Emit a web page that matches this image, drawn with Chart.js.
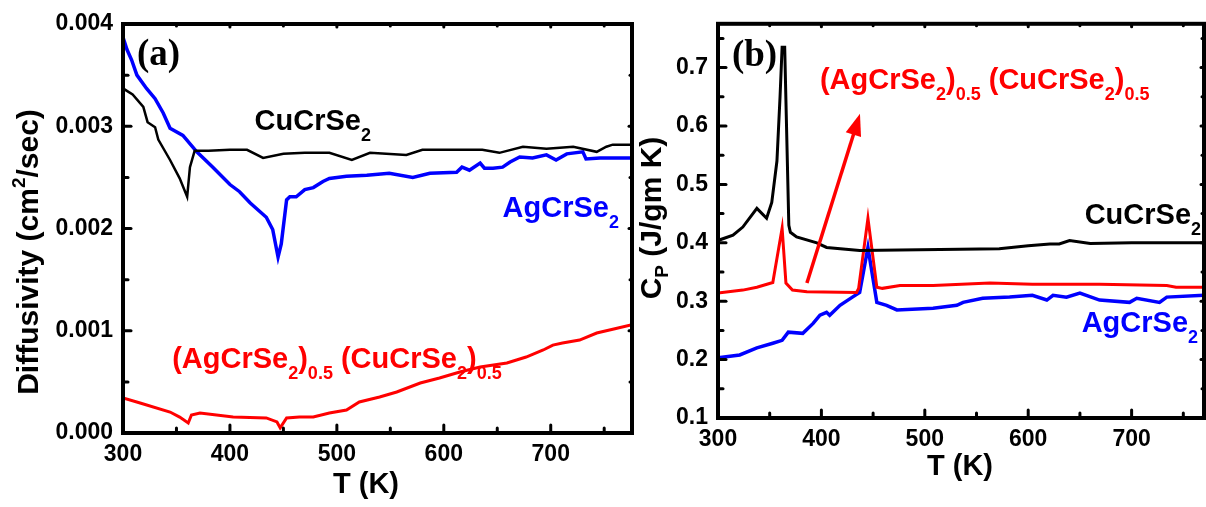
<!DOCTYPE html>
<html><head><meta charset="utf-8">
<script src="https://cdn.jsdelivr.net/npm/chart.js@4.4.0/dist/chart.umd.min.js"></script>
<style>
html,body{margin:0;padding:0;background:#fff;width:1206px;height:507px;overflow:hidden}
#wa{position:absolute;left:0;top:0;width:636px;height:507px}
#wb{position:absolute;left:636px;top:0;width:570px;height:507px}
</style></head><body>
<div id="wa"><canvas id="ca"></canvas></div>
<div id="wb"><canvas id="cb"></canvas></div>
<script>
// ---------- Panel (a): thermal diffusivity ----------
const aCuT = [300,309,319,323,330,333,344,353,360,362.6,367,380,400,416,431,450,470,493,514,531,565,580,610,636,652,674,696,721,743,752,758,776];
const aCuD = [3.37,3.31,3.19,3.04,2.99,2.87,2.67,2.49,2.31,2.60,2.76,2.76,2.77,2.77,2.69,2.73,2.74,2.74,2.67,2.74,2.72,2.77,2.77,2.77,2.74,2.80,2.78,2.80,2.75,2.80,2.82,2.82].map(v=>v/1000);
const aAgT = [300,303.7,308,313,322,330,337.6,344,356,369,384,400,409,419,434,440,445,448,453,456,462,470,478,487,493,509,528,549,571,587,612,617,624,634,638,646,655,662,671,683,696,705,715,730,733,746,776];
const aAgD = [3.87,3.75,3.65,3.50,3.37,3.27,3.13,2.98,2.91,2.75,2.60,2.43,2.36,2.25,2.11,1.99,1.72,1.85,2.28,2.31,2.31,2.38,2.40,2.46,2.49,2.51,2.52,2.54,2.50,2.54,2.55,2.60,2.57,2.64,2.59,2.59,2.60,2.65,2.70,2.69,2.72,2.67,2.73,2.75,2.68,2.69,2.69].map(v=>v/1000);
const aMixT = [300,316,344,353,361,364,372,403,434,444,447,453,465,478,493,509,521,540,556,578,596,615,634,659,677,693,702,711,727,743,760,776];
const aMixD = [0.342,0.293,0.205,0.156,0.098,0.176,0.196,0.156,0.147,0.108,0.05,0.147,0.156,0.156,0.196,0.225,0.303,0.352,0.401,0.489,0.538,0.596,0.645,0.685,0.743,0.812,0.860,0.880,0.909,0.978,1.02,1.06].map(v=>v/1000);

// ---------- Panel (b): specific heat ----------
const bCuT = [300,314.5,324,337.6,347,352,357,360,362,364.5,366,368.5,370,376,395.6,405,437,534,572,600,621,630,640,660,700,770];
const bCuC = [0.404,0.413,0.427,0.459,0.442,0.469,0.54,0.65,0.735,0.735,0.62,0.43,0.418,0.41,0.40,0.392,0.387,0.389,0.390,0.395,0.398,0.398,0.404,0.399,0.400,0.400];
const bAgT = [300,321,337.6,353,362,368,382,392,398.6,405,408,418,430,437,445,453.6,463,473,508,531,537,556,582,604,618,624,637,650,669,698,705,727,734,770];
const bAgC = [0.203,0.208,0.22,0.228,0.233,0.247,0.245,0.262,0.276,0.281,0.276,0.293,0.307,0.315,0.392,0.298,0.293,0.285,0.288,0.293,0.298,0.305,0.307,0.310,0.302,0.31,0.307,0.314,0.302,0.298,0.305,0.298,0.307,0.31];
const bMixT = [300,324,337.6,353,362,365.7,372,386,434,436,445,453.6,459,476,495,508,563,604,669,734,743,770];
const bMixC = [0.314,0.319,0.324,0.332,0.425,0.331,0.319,0.316,0.315,0.322,0.442,0.324,0.322,0.327,0.327,0.327,0.331,0.329,0.329,0.327,0.324,0.324];

// ---------- ticks ----------
const xTicks = [300,400,500,600,700];
const xMinor = [350,450,550,650,750];
const yTicksA = [0,0.001,0.002,0.003,0.004];
const yMinorA = [0.0005,0.0015,0.0025,0.0035];
const yTicksB = [0.1,0.2,0.3,0.4,0.5,0.6,0.7];
const yMinorB = [0.15,0.25,0.35,0.45,0.55,0.65,0.75];

const FONT = '"Liberation Sans", Arial, Helvetica, sans-serif';
const RED='#ff0000', BLUE='#0000ff', BLACK='#000000';
const pts = (xs,ys)=>xs.map((x,i)=>({x, y:ys[i]}));

function drawSegs(ctx, segs, x, y, color, size, subSize, subDy, supDy){
  let cx = x;
  for (const s of segs){
    const t = s[0], kind = s[1];
    if (kind==='sub'){ ctx.font = `bold ${subSize}px ${FONT}`; ctx.fillStyle=color; ctx.fillText(t, cx, y+subDy); }
    else if (kind==='sup'){ ctx.font = `bold ${subSize}px ${FONT}`; ctx.fillStyle=color; ctx.fillText(t, cx, y-supDy); }
    else { ctx.font = `bold ${size}px ${FONT}`; ctx.fillStyle=color; ctx.fillText(t, cx, y); }
    cx += ctx.measureText(t).width;
  }
  return cx - x;
}
function measureSegs(ctx, segs, size, subSize){
  let w=0;
  for (const s of segs){ ctx.font = `bold ${s[1]?subSize:size}px ${FONT}`; w += ctx.measureText(s[0]).width; }
  return w;
}

const deco = {
  id:'deco',
  afterDatasetsDraw(chart, args, o){
    const {ctx, chartArea:ca} = chart;
    const xs = chart.scales.x, ys = chart.scales.y;
    ctx.save();
    // arrow
    if (o.arrow){
      const a=o.arrow;
      const x1=xs.getPixelForValue(a.from[0]), y1=ys.getPixelForValue(a.from[1]);
      const x2=xs.getPixelForValue(a.to[0]), y2=ys.getPixelForValue(a.to[1]);
      const ang=Math.atan2(y2-y1,x2-x1), hl=22, hw=8;
      ctx.strokeStyle=a.color; ctx.fillStyle=a.color; ctx.lineWidth=3.5;
      ctx.beginPath(); ctx.moveTo(x1,y1); ctx.lineTo(x2-hl*0.8*Math.cos(ang), y2-hl*0.8*Math.sin(ang)); ctx.stroke();
      ctx.beginPath(); ctx.moveTo(x2,y2);
      ctx.lineTo(x2-hl*Math.cos(ang)+hw*Math.sin(ang), y2-hl*Math.sin(ang)-hw*Math.cos(ang));
      ctx.lineTo(x2-hl*Math.cos(ang)-hw*Math.sin(ang), y2-hl*Math.sin(ang)+hw*Math.cos(ang));
      ctx.closePath(); ctx.fill();
    }
    // frame
    ctx.strokeStyle='#000'; ctx.lineWidth=4;
    ctx.strokeRect(ca.left, ca.top, ca.right-ca.left, ca.bottom-ca.top);
    // ticks
    ctx.lineWidth=3; ctx.lineCap='round';
    const line=(x1,y1,x2,y2)=>{ctx.beginPath();ctx.moveTo(x1,y1);ctx.lineTo(x2,y2);ctx.stroke();};
    for (const v of o.xMajor){ const p=xs.getPixelForValue(v); if(p>ca.left+3&&p<ca.right-3){ line(p,ca.bottom,p,ca.bottom-8); line(p,ca.top,p,ca.top+3);} }
    for (const v of o.xMinor){ const p=xs.getPixelForValue(v); if(p>ca.left+3&&p<ca.right-3){ line(p,ca.bottom,p,ca.bottom-5); line(p,ca.top,p,ca.top+2);} }
    for (const v of o.yMajor){ const p=ys.getPixelForValue(v); if(p>ca.top+3&&p<ca.bottom-3){ line(ca.left,p,ca.left+8,p); line(ca.right,p,ca.right-3,p);} }
    for (const v of o.yMinor){ const p=ys.getPixelForValue(v); if(p>ca.top+3&&p<ca.bottom-3){ line(ca.left,p,ca.left+5,p); line(ca.right,p,ca.right-2,p);} }
    // annotations
    ctx.textBaseline='alphabetic'; ctx.textAlign='left';
    for (const t of o.texts){
      drawSegs(ctx, t.segs, xs.getPixelForValue(t.x), ys.getPixelForValue(t.y), t.color, 29, 18, 11, 10);
    }
    // panel label
    ctx.font = `bold ${o.panel.size}px "Liberation Serif", "Times New Roman", serif`;
    ctx.fillStyle='#000';
    ctx.fillText(o.panel.text, xs.getPixelForValue(o.panel.x), ys.getPixelForValue(o.panel.y));
    // x title
    ctx.font = `bold 29px ${FONT}`; ctx.textAlign='center'; ctx.textBaseline='middle';
    ctx.fillText(o.xTitle.text, o.xTitle.cx, o.xTitle.cy);
    // y title (rotated)
    ctx.save();
    ctx.translate(o.yTitle.cx, o.yTitle.cy); ctx.rotate(-Math.PI/2);
    ctx.textAlign='left'; ctx.textBaseline='middle';
    const w = measureSegs(ctx, o.yTitle.segs, 30, 19);
    drawSegs(ctx, o.yTitle.segs, -w/2, 0, '#000', 30, 19, 10, 10);
    ctx.restore();
    ctx.restore();
  }
};

const S2 = [['CuCrSe'],['2','sub']];
const A2 = [['AgCrSe'],['2','sub']];
const MIX = [['(AgCrSe'],['2','sub'],[')'],['0.5','sub'],[' (CuCrSe'],['2','sub'],[')'],['0.5','sub']];

function makeChart(id, cfg){
  return new Chart(document.getElementById(id), {
    type:'line',
    data:{ datasets: cfg.datasets.map(d=>({data:d.data, borderColor:d.color, borderWidth:d.w, pointRadius:0, tension:0, fill:false})) },
    plugins:[deco],
    options:{
      responsive:true, maintainAspectRatio:false, animation:false, devicePixelRatio:1,
      layout:{padding:cfg.padding},
      plugins:{legend:{display:false}, tooltip:{enabled:false}, deco:cfg.deco},
      scales:{
        x:{type:'linear', min:300, max:cfg.xMax,
          afterBuildTicks:s=>{s.ticks=xTicks.map(v=>({value:v}));},
          afterFit:s=>{s.height=cfg.xH;},
          grid:{display:false, drawTicks:false}, border:{display:false},
          ticks:{autoSkip:false, maxRotation:0, padding:cfg.xPad, color:'#000', font:{family:FONT, size:23, weight:'bold'}, callback:v=>String(v)}},
        y:{type:'linear', min:cfg.yMin, max:cfg.yMax,
          afterBuildTicks:s=>{s.ticks=cfg.yTicks.map(v=>({value:v}));},
          afterFit:s=>{s.width=cfg.yW;},
          grid:{display:false, drawTicks:false}, border:{display:false},
          ticks:{autoSkip:false, padding:10, color:'#000', font:{family:FONT, size:23, weight:'bold'}, callback:v=>v.toFixed(cfg.dec)}}
      }
    }
  });
}

makeChart('ca', {
  datasets:[
    {data:pts(aCuT,aCuD), color:BLACK, w:2.5},
    {data:pts(aAgT,aAgD), color:BLUE, w:3.5},
    {data:pts(aMixT,aMixD), color:RED, w:3}
  ],
  padding:{left:0, top:24, right:4, bottom:0},
  xMax:776, xH:74, xPad:8, yMin:0, yMax:0.004, yTicks:yTicksA, yW:123, dec:3,
  deco:{
    xMajor:xTicks, xMinor:xMinor, yMajor:yTicksA, yMinor:yMinorA,
    texts:[
      {segs:S2, x:423, y:0.00296, color:BLACK},
      {segs:A2, x:655, y:0.00211, color:BLUE},
      {segs:MIX, x:346, y:0.000636, color:RED}
    ],
    panel:{text:'(a)', x:313, y:0.0036, size:37},
    xTitle:{text:'T (K)', cx:366, cy:485},
    yTitle:{segs:[['Diffusivity (cm'],['2','sup'],['/sec)']], cx:30, cy:252}
  }
});

makeChart('cb', {
  datasets:[
    {data:pts(bCuT,bCuC), color:BLACK, w:3},
    {data:pts(bMixT,bMixC), color:RED, w:3},
    {data:pts(bAgT,bAgC), color:BLUE, w:3.5}
  ],
  padding:{left:0, top:23, right:2, bottom:0},
  xMax:770, xH:89, xPad:8, yMin:0.1, yMax:0.775, yTicks:yTicksB, yW:82, dec:1,
  deco:{
    xMajor:xTicks, xMinor:xMinor, yMajor:yTicksB, yMinor:yMinorB,
    texts:[
      {segs:MIX, x:398.6, y:0.664, color:RED},
      {segs:S2, x:654.6, y:0.433, color:BLACK},
      {segs:A2, x:651.7, y:0.247, color:BLUE}
    ],
    arrow:{from:[386,0.331], to:[437.3,0.621], color:RED},
    panel:{text:'(b)', x:313.5, y:0.702, size:37},
    xTitle:{text:'T (K)', cx:324, cy:467},
    yTitle:{segs:[['C'],['P','sub'],[' (J/gm K)']], cx:17, cy:218}
  }
});
</script>
</body></html>
